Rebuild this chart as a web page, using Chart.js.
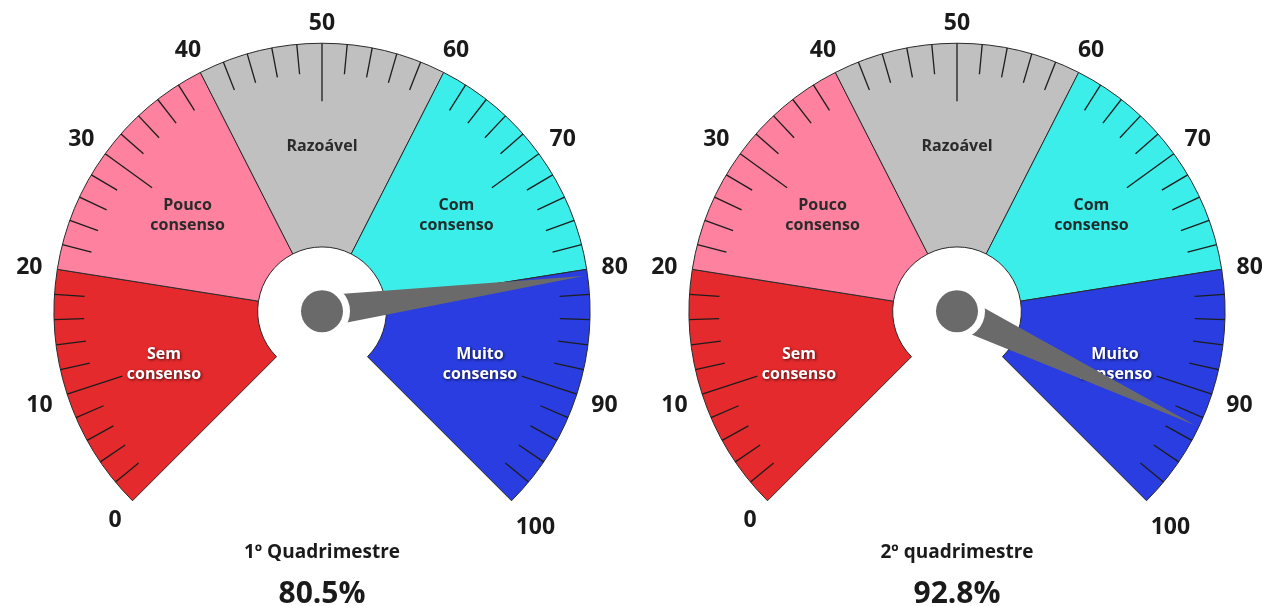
<!DOCTYPE html>
<html>
<head>
<meta charset="utf-8">
<script src="https://cdn.jsdelivr.net/npm/chart.js@4.4.1/dist/chart.umd.min.js"></script>
<style>
  body{margin:0;background:#fff;}
  .wrap{position:relative;width:1262px;height:606px;}
  canvas{position:absolute;top:0;}
</style>
</head>
<body>
<div class="wrap">
  <canvas id="gauge1" width="631" height="606" style="left:0"></canvas>
  <canvas id="gauge2" width="631" height="606" style="left:631px"></canvas>
</div>
<script>
// bands of the dial, in order from 0 to 100
const bandNames = [['Sem','consenso'], ['Pouco','consenso'], ['Razoável'], ['Com','consenso'], ['Muito','consenso']];
const bandSizes = [20, 20, 20, 20, 20];
const bandColors = ['#e52a2d', '#fe819f', '#c0c0c0', '#3ceeea', '#2a3de0'];
const bandTextColors = ['#ffffff', '#2b2b2b', '#2b2b2b', '#1f2b2b', '#ffffff'];
const tickLabels = [0, 10, 20, 30, 40, 50, 60, 70, 80, 90, 100];

const periods = ['1º Quadrimestre', '2º quadrimestre'];
const scores = [80.5, 92.8];

const FONT = '"Open Sans", "Noto Sans", sans-serif';

// ticks, labels, needle and captions drawn on top of the doughnut
const gaugeDecor = {
  id: 'gaugeDecor',
  afterDatasetsDraw(chart, args, opts) {
    const ctx = chart.ctx;
    const arcs = chart.getDatasetMeta(0).data;
    const first = arcs[0], last = arcs[arcs.length - 1];
    const cx = first.x, cy = first.y;
    const R = first.outerRadius, r0 = first.innerRadius;
    const a0 = first.startAngle, a1 = last.endAngle;
    const total = bandSizes.reduce((s, v) => s + v, 0);
    const ang = v => a0 + (a1 - a0) * v / total;

    ctx.save();
    // minor / major ticks
    ctx.strokeStyle = '#1d1d1d';
    ctx.lineWidth = 1.3;
    for (let v = 2; v < total; v += 2) {
      if (v % 20 === 0) continue;
      const len = v % 10 === 0 ? 58 : 30;
      const a = ang(v);
      ctx.beginPath();
      ctx.moveTo(cx + Math.cos(a) * R, cy + Math.sin(a) * R);
      ctx.lineTo(cx + Math.cos(a) * (R - len), cy + Math.sin(a) * (R - len));
      ctx.stroke();
    }

    // scale numbers around the rim
    ctx.font = 'bold 23px ' + FONT;
    ctx.fillStyle = '#1a1a1a';
    ctx.textAlign = 'center';
    ctx.textBaseline = 'alphabetic';
    const capH = 16.5;
    tickLabels.forEach(v => {
      const a = ang(v);
      const txt = String(v);
      const w = ctx.measureText(txt).width;
      const ext = Math.abs(Math.cos(a)) * w / 2 + Math.abs(Math.sin(a)) * capH / 2;
      const rr = R + 14 + ext;
      ctx.fillText(txt, cx + Math.cos(a) * rr, cy + Math.sin(a) * rr + capH / 2 + 1);
    });

    // band names
    ctx.font = 'bold 16px ' + FONT;
    arcs.forEach((el, i) => {
      const a = (el.startAngle + el.endAngle) / 2;
      const rr = (R + r0) / 2;
      const x = cx + Math.cos(a) * rr, y = cy + Math.sin(a) * rr;
      const lines = bandNames[i];
      ctx.save();
      if (bandTextColors[i] === '#ffffff') {
        ctx.shadowColor = 'rgba(0,0,0,0.7)';
        ctx.shadowBlur = 3;
        ctx.shadowOffsetX = 1;
        ctx.shadowOffsetY = 1;
      }
      ctx.fillStyle = bandTextColors[i];
      lines.forEach((ln, k) => {
        const dy = (k - (lines.length - 1) / 2) * 20;
        ctx.fillText(ln, x, y + dy + 6);
      });
      ctx.restore();
    });

    // needle
    const a = ang(opts.value);
    const tip = R - 4, half = 16;
    const px = -Math.sin(a), py = Math.cos(a);
    ctx.fillStyle = '#6a6a6a';
    ctx.beginPath();
    ctx.moveTo(cx + px * half, cy + py * half);
    ctx.lineTo(cx + Math.cos(a) * tip, cy + Math.sin(a) * tip);
    ctx.lineTo(cx - px * half, cy - py * half);
    ctx.closePath();
    ctx.fill();
    ctx.fillStyle = '#ffffff';
    ctx.beginPath();
    ctx.arc(cx, cy, 28, 0, Math.PI * 2);
    ctx.fill();
    ctx.fillStyle = '#6a6a6a';
    ctx.beginPath();
    ctx.arc(cx, cy, 21, 0, Math.PI * 2);
    ctx.fill();

    // captions under the dial
    ctx.fillStyle = '#1a1a1a';
    ctx.font = 'bold 19px ' + FONT;
    ctx.fillText(opts.title, cx, cy + 247);
    ctx.font = 'bold 30px ' + FONT;
    ctx.fillText(opts.value.toFixed(1) + '%', cx, cy + 292);
    ctx.restore();
  }
};

const makeGauge = (id, idx, padLeft) => new Chart(document.getElementById(id), {
  type: 'doughnut',
  data: {
    labels: bandNames.map(n => n.join(' ')),
    datasets: [{
      data: bandSizes,
      backgroundColor: bandColors,
      borderColor: '#2a2a2a',
      borderWidth: 1
    }]
  },
  options: {
    responsive: false,
    animation: false,
    events: [],
    rotation: -135,
    circumference: 270,
    cutout: '24%',
    radius: 268,
    layout: { padding: { left: padLeft, right: 0, top: 0, bottom: 62 } },
    plugins: {
      legend: { display: false },
      tooltip: { enabled: false },
      gaugeDecor: { title: periods[idx], value: scores[idx] }
    }
  },
  plugins: [gaugeDecor]
});

makeGauge('gauge1', 0, 13);
makeGauge('gauge2', 1, 21);
</script>
</body>
</html>
